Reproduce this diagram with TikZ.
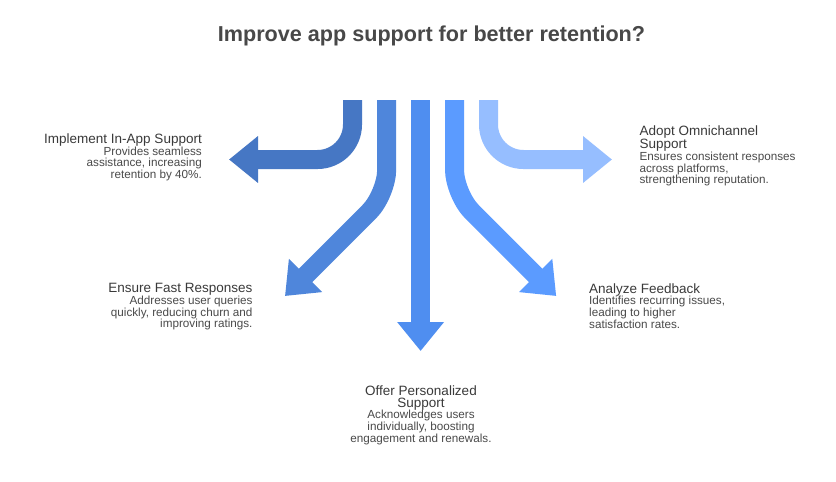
\documentclass[tikz,border=0pt]{standalone}
\usepackage{fontspec}
\setmainfont{Liberation Sans}
\usetikzlibrary{arrows.meta}
\definecolor{cA}{HTML}{4677C4}
\definecolor{cB}{HTML}{4F86DB}
\definecolor{cC}{HTML}{4F8EF0}
\definecolor{cD}{HTML}{5B9BFF}
\definecolor{cE}{HTML}{96BEFF}
\definecolor{titlec}{HTML}{484848}
\definecolor{headc}{HTML}{3A3A3A}
\definecolor{bodyc}{HTML}{4A4A4A}
\newcommand{\myhead}[1]{{\fontsize{13.5}{12.2}\selectfont\color{headc}#1}}
\begin{document}
\begin{tikzpicture}[x=1pt,y=-1pt,
  flow/.style={line width=19pt, -{Triangle[length=29pt,width=45pt]}},
  lbl/.style={font=\fontsize{11.7}{11.7}\selectfont, text=bodyc, inner sep=0pt}]
\useasboundingbox[fill=white] (0,0) rectangle (836,482);

\node[anchor=base, font=\fontsize{21.6}{24}\selectfont\bfseries, text=titlec, inner sep=0pt] (title) at (431.5,41.7) {Improve app support for better retention?};

% start, bend and tip coordinates
\coordinate (s1) at (352.5,100); \coordinate (b1) at (352.5,159.5); \coordinate (t1) at (229,159.5);
\coordinate (s2) at (386.7,100); \coordinate (b2) at (386.7,194.3); \coordinate (t2) at (285,296);
\coordinate (s3) at (420.6,100); \coordinate (t3) at (420.6,351);
\coordinate (s4) at (454.5,100); \coordinate (b4) at (454.5,194.3); \coordinate (t4) at (556.2,296);
\coordinate (s5) at (488.5,100); \coordinate (b5) at (488.5,159.5); \coordinate (t5) at (612,159.5);

\draw[flow, cA, rounded corners=35pt] (s1) -- (b1) -- (t1);
\draw[flow, cB, rounded corners=25pt] (s2) -- (b2) -- (t2);
\draw[flow, cC] (s3) -- (t3);
\draw[flow, cD, rounded corners=25pt] (s4) -- (b4) -- (t4);
\draw[flow, cE, rounded corners=35pt] (s5) -- (b5) -- (t5);

\node[lbl, anchor=north east, align=right] (n1) at (202,133.5)
  {\myhead{Implement In-App Support}\\Provides seamless\\assistance, increasing\\retention by 40\%.};
\node[lbl, anchor=north west, align=left] (n5) at (639.3,125.5)
  {\myhead{Adopt Omnichannel}\\\myhead{Support}\\Ensures consistent responses\\across platforms,\\strengthening reputation.};
\node[lbl, anchor=north east, align=right] (n2) at (252.7,283.2)
  {\myhead{Ensure Fast Responses}\\Addresses user queries\\quickly, reducing churn and\\improving ratings.};
\node[lbl, anchor=north west, align=left] (n4) at (589,283.2)
  {\myhead{Analyze Feedback}\\Identifies recurring issues,\\leading to higher\\satisfaction rates.};
\node[lbl, anchor=north, align=center] (n3) at (421,385.5)
  {\myhead{Offer Personalized}\\\myhead{Support}\\Acknowledges users\\individually, boosting\\engagement and renewals.};
\end{tikzpicture}
\end{document}
